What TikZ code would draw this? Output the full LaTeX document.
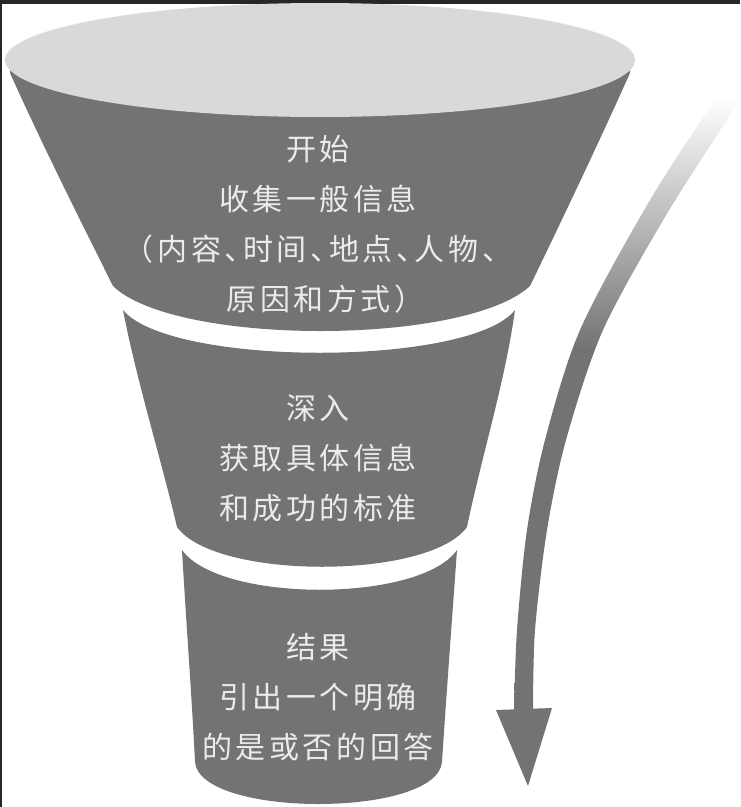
\documentclass[tikz,border=0pt]{standalone}
\usepackage{fontspec}
\newfontfamily\cjk[LetterSpace=12,RawFeature=+halt]{Noto Sans CJK SC}
\definecolor{funnelgray}{HTML}{737373}
\definecolor{rimgray}{HTML}{D9D9D9}
\pgfdeclareverticalshading{arrowfade}{100bp}{color(0bp)=(funnelgray); color(54bp)=(funnelgray); color(74bp)=(white); color(100bp)=(white)}
\begin{document}
\begin{tikzpicture}[x=1pt, y=-1pt,
  stage/.style={fill=funnelgray},
  stagetext/.style={text=white!92!black, align=center, inner sep=0pt,
    font=\cjk\fontsize{30}{50}\selectfont}]
\useasboundingbox (0,0) rectangle (740,807);
\fill[black!85] (0,0) rectangle (740,4);
\fill[black!85] (0,0) rectangle (2,807);
\fill[stage] (10,73) .. controls (40,140) and (80,220) .. (113,286)
  .. controls (175,346) and (465,346) .. (530,286)
  .. controls (562,220) and (600,140) .. (630,73) -- (630,60) -- (10,60) -- cycle;
\fill[rimgray] (320,60) ellipse [x radius=315pt, y radius=57pt];
\fill[stage] (123,310) .. controls (137,382) and (160,455) .. (177,527)
  .. controls (215,580) and (429,580) .. (467,527)
  .. controls (482,455) and (505,382) .. (515,310)
  .. controls (470,367) and (170,367) .. cycle;
\fill[stage] (182,550) .. controls (186,620) and (192,700) .. (195,762)
  .. controls (200,818) and (437,818) .. (442,762)
  .. controls (446,700) and (452,620) .. (457,550)
  .. controls (420,603) and (220,603) .. cycle;
\node[stagetext] (start) at (318,224) {开始\\收集一般信息\\（内容、时间、地点、人物、\\原因和方式）};
\node[stagetext] (deep) at (318,458) {深入\\获取具体信息\\和成功的标准};
\node[stagetext] (result) at (318,697) {结果\\引出一个明确\\的是或否的回答};
\shade[shading=arrowfade]
  plot[smooth] coordinates {(724,86) (650,200) (580,330) (545,440) (527,530) (517,630) (514,712)}
  -- plot[smooth] coordinates {(533,712) (535,630) (547,530) (566,440) (603,330) (668,212) (740,100)} -- cycle;
\fill[funnelgray] (496,710) -- (552,708) -- (528,786) -- cycle;
\end{tikzpicture}
\end{document}
